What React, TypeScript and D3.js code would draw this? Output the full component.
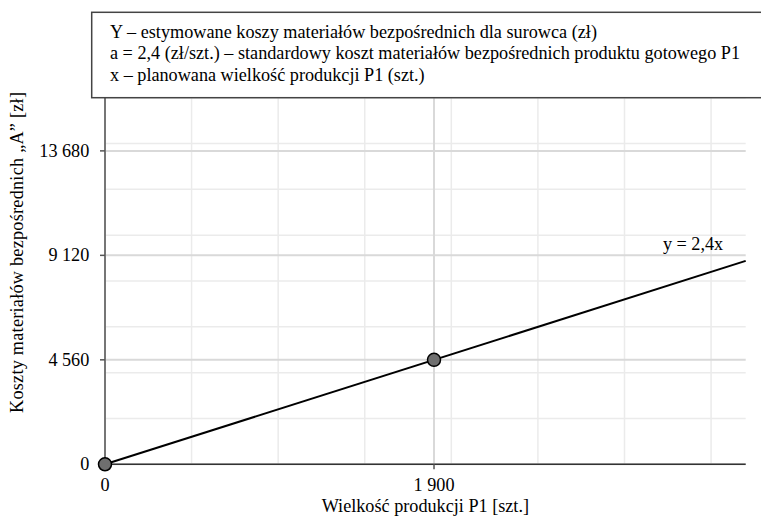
import * as d3 from 'd3'

// values
const xTicks = [0, 1900]
const yTicks = [0, 4560, 9120, 13680]
const xMinorGrid = [500, 1000, 1500, 2000, 2500, 3000, 3500]
const yMinorGrid = [2000, 4000, 6000, 8000, 10000, 12000, 14000, 16000]
const lineX = [0, 3700]
const lineY = [0, 8880]
const pointX = [0, 1900]
const pointY = [0, 4560]
const legendLines = [
  'Y – estymowane koszy materiałów bezpośrednich dla surowca (zł)',
  'a = 2,4 (zł/szt.) – standardowy koszt materiałów bezpośrednich produktu gotowego P1',
  'x – planowana wielkość produkcji P1 (szt.)',
]
const lineLabel = 'y = 2,4x'
const xTitle = 'Wielkość produkcji P1 [szt.]'
const yTitle = 'Koszty materiałów bezpośrednich „A” [zł]'

const width = 761
const height = 522
const margin = { top: 92, right: 15.3, bottom: 57.7, left: 105 }

const fmt = (v: number) => d3.format(',')(v).replace(/,/g, ' ')

export default function App() {
  const x = d3.scaleLinear().domain([0, 3700]).range([margin.left, width - margin.right])
  const y = d3.scaleLinear().domain([0, 16250]).range([height - margin.bottom, margin.top])
  const [x0, x1] = x.range()
  const [y0, y1] = y.range()

  const line = d3.line<number>().x(d => x(d)).y((_, i) => y(lineY[i]))
  const textStyle = { fontFamily: "'Liberation Serif', 'Times New Roman', serif", fontSize: '18.2px' }

  return (
    <svg width={width} height={height} style={{ position: 'absolute', left: 0, top: 0, background: '#fff' }}>
      {/* minor grid */}
      {xMinorGrid.map(d => (
        <line key={'vx' + d} x1={x(d)} x2={x(d)} y1={y0} y2={y1} stroke="#ebebeb" strokeWidth={1.5} />
      ))}
      {yMinorGrid.map(d => (
        <line key={'hy' + d} x1={x0} x2={x1} y1={y(d)} y2={y(d)} stroke="#ebebeb" strokeWidth={1.5} />
      ))}
      {/* major grid */}
      {xTicks.map(d => (
        <line key={'VX' + d} x1={x(d)} x2={x(d)} y1={y0} y2={y1} stroke="#d9d9d9" strokeWidth={2} />
      ))}
      {yTicks.map(d => (
        <line key={'HY' + d} x1={x0} x2={x1} y1={y(d)} y2={y(d)} stroke="#d9d9d9" strokeWidth={2} />
      ))}

      {/* axes */}
      <line x1={x0} x2={x0} y1={y0} y2={y1} stroke="#555" strokeWidth={1.5} />
      <line x1={x0} x2={x1} y1={y0} y2={y0} stroke="#333" strokeWidth={1.5} />
      {yTicks.map(d => (
        <g key={'ty' + d}>
          <line x1={x0 - 5} x2={x0} y1={y(d)} y2={y(d)} stroke="#555" strokeWidth={1.5} />
          <text x={x0 - 15.7} y={y(d)} dy="0.33em" textAnchor="end" style={textStyle}>{fmt(d)}</text>
        </g>
      ))}
      {xTicks.map(d => (
        <g key={'tx' + d}>
          <line x1={x(d)} x2={x(d)} y1={y0} y2={y0 + 5} stroke="#555" strokeWidth={1.5} />
          <text x={x(d)} y={y0 + 26.4} textAnchor="middle" style={textStyle}>{fmt(d)}</text>
        </g>
      ))}

      {/* y = 2,4x */}
      <path d={line(lineX) || ''} fill="none" stroke="#000" strokeWidth={2} />
      {pointX.map((d, i) => (
        <circle key={'p' + d} cx={x(d)} cy={y(pointY[i])} r={6.5} fill="#6f6f6f" stroke="#000" strokeWidth={1.5} />
      ))}
      <text x={x(3700) - 22.5} y={250} textAnchor="end" style={textStyle}>{lineLabel}</text>

      {/* titles */}
      <text x={(x0 + x1) / 2} y={512} textAnchor="middle" style={textStyle}>{xTitle}</text>
      <text transform="translate(23,252.5) rotate(-90)" textAnchor="middle" textLength={321}
        lengthAdjust="spacing" style={textStyle}>{yTitle}</text>

      {/* legend */}
      <rect x={91.7} y={12.3} width={700} height={85.4} fill="#fff" stroke="#444" strokeWidth={1.5} />
      {legendLines.map((d, i) => (
        <text key={'l' + i} x={110} y={37.5 + i * 21.7} style={textStyle}
          textLength={i === 0 ? 487 : undefined} lengthAdjust="spacing">{d}</text>
      ))}
    </svg>
  )
}
